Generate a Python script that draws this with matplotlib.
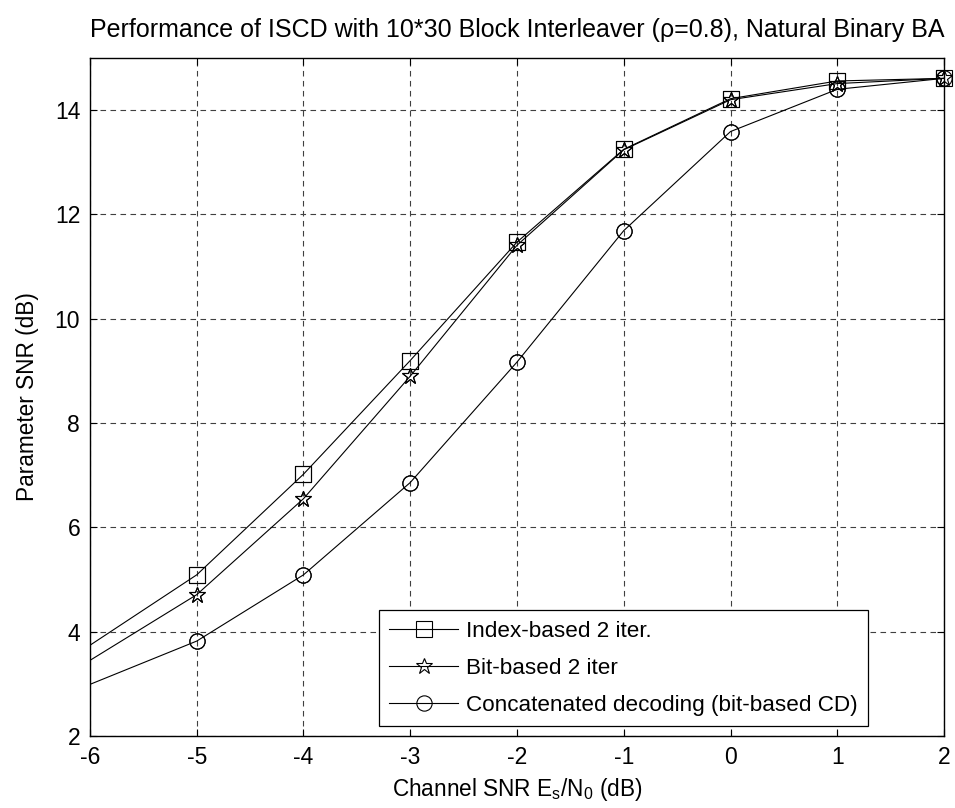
import matplotlib
matplotlib.use("Agg")
import matplotlib.pyplot as plt

plt.rcParams['font.family'] = ['Liberation Sans', 'DejaVu Sans']
plt.rcParams['mathtext.fontset'] = 'custom'
plt.rcParams['mathtext.rm'] = 'Liberation Sans'

snr = [-7, -5, -4, -3, -2, -1, 0, 1, 2]
index_based = [2.39, 5.09, 7.02, 9.20, 11.47, 13.25, 14.22, 14.56, 14.61]
bit_based = [2.19, 4.71, 6.55, 8.90, 11.41, 13.24, 14.20, 14.51, 14.61]
concat = [2.16, 3.82, 5.09, 6.86, 9.17, 11.69, 13.59, 14.40, 14.61]

labels = ['Index-based 2 iter.', 'Bit-based 2 iter',
          'Concatenated decoding (bit-based CD)']
xticks = [-6, -5, -4, -3, -2, -1, 0, 1, 2]
yticks = [2, 4, 6, 8, 10, 12, 14]
xlim = (-6, 2)

fig = plt.figure(figsize=(9.55, 8.08), dpi=100)
ax = fig.add_axes([0.0942, 0.0891, 0.8943, 0.8391])

kw = dict(color='black', lw=0.8, mfc='none', mec='black', mew=0.8)
series = [(index_based, 's', 11), (bit_based, '*', 12), (concat, 'o', 11)]
for (ys, m, ms), lab in zip(series, labels):
    ax.plot(snr, ys, marker=m, ms=ms, label=lab, **kw)
    xs_in = [x for x in snr if xlim[0] <= x <= xlim[1]]
    ys_in = [y for x, y in zip(snr, ys) if xlim[0] <= x <= xlim[1]]
    ax.plot(xs_in, ys_in, ls='none', marker=m, ms=ms, mfc='none', mec='black',
            mew=0.8, clip_on=False, zorder=3)

ax.set_xlim(*xlim)
ax.set_ylim(2, 15)
ax.set_xticks(xticks)
ax.set_yticks(yticks)
ax.set_xticklabels([str(t) for t in xticks])
ax.grid(True, color='#404040', linestyle=(0, (5, 4)), lw=0.8)
ax.tick_params(direction='in', top=True, right=True, labelsize=16.5,
               length=5, width=0.8, pad=7)
for s in ax.spines.values():
    s.set_linewidth(1.0)

ax.set_title('Performance of ISCD with 10*30 Block Interleaver (\u03c1=0.8), Natural Binary BA',
             fontsize=18, pad=15)
ax.set_xlabel(r'Channel SNR E$_\mathregular{s}$/N$_\mathregular{0}$ (dB)', fontsize=16.3, labelpad=5)
ax.set_ylabel('Parameter SNR (dB)', fontsize=16.3, labelpad=11)

leg = ax.legend(loc='lower right', bbox_to_anchor=(0.9107, 0.0147), borderaxespad=0,
                fontsize=16.2, fancybox=False, framealpha=1, edgecolor='black',
                handlelength=3.05, handletextpad=0.36, borderpad=0.45, labelspacing=0.72)
leg.get_frame().set_linewidth(0.9)

fig.savefig('out.png', dpi=100)
